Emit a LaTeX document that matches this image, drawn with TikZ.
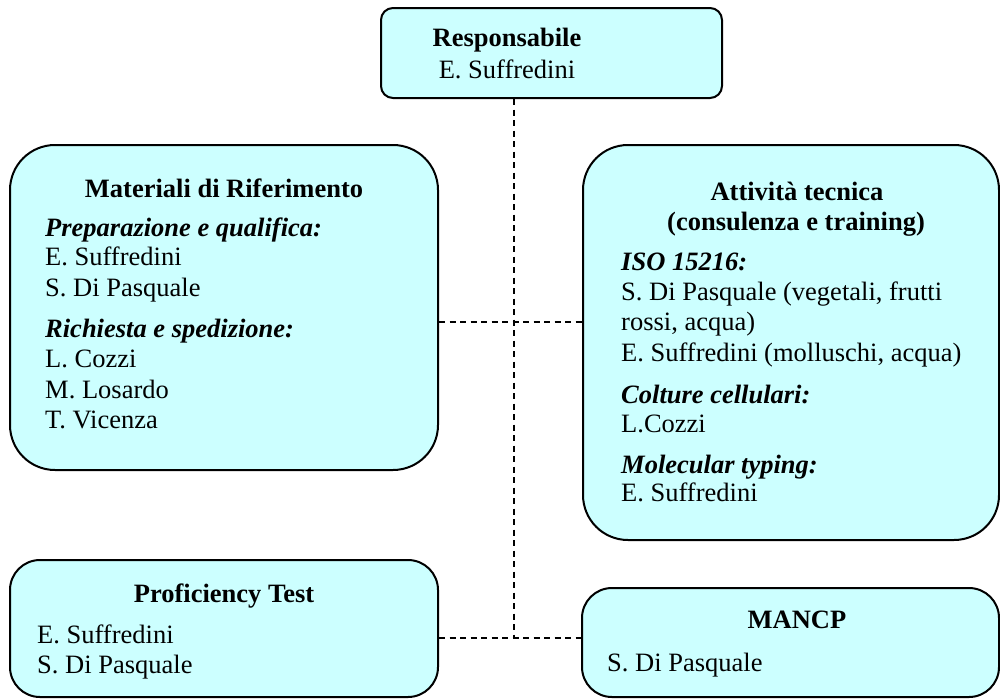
\documentclass[tikz,border=0pt]{standalone}
\usepackage{fontspec}
\setmainfont{Liberation Serif}
\definecolor{boxfill}{RGB}{204,255,255}
\tikzset{
  box/.style={draw=black, line width=2pt, fill=boxfill, inner sep=0pt},
  conn/.style={draw=black, line width=1.6pt, dash pattern=on 6pt off 4.5pt},
  txt/.style={inner sep=0pt, font=\fontsize{26.5}{30}\selectfont},
  ttl/.style={txt, anchor=base, font=\fontsize{26.5}{30}\selectfont\bfseries},
  itm/.style={txt, anchor=base west},
  hd/.style={txt, anchor=base west, font=\fontsize{26.5}{30}\selectfont\bfseries\itshape}
}
\begin{document}
\begin{tikzpicture}[x=1pt, y=-1pt]
\useasboundingbox[fill=white] (0,0) rectangle (1000,699);
% boxes
\node[box, rounded corners=12pt, minimum width=341pt, minimum height=90pt] (resp) at (551.5,53) {};
\node[box, rounded corners=45pt, minimum width=428pt, minimum height=325pt] (mat) at (224,307.5) {};
\node[box, rounded corners=45pt, minimum width=416pt, minimum height=395pt] (att) at (791,342.5) {};
\node[box, rounded corners=30pt, minimum width=428pt, minimum height=137pt] (prof) at (224,628.5) {};
\node[box, rounded corners=30pt, minimum width=417pt, minimum height=109pt] (mancp) at (790.5,642.5) {};
% junctions
\coordinate (j1) at (514,322);
\coordinate (j2) at (514,638);
% connectors
\draw[conn] (resp.south -| j1) -- (j2);
\draw[conn] (mat.east |- j1) -- (att.west |- j1);
\draw[conn] (prof.east |- j2) -- (mancp.west |- j2);
% Responsabile
\node[ttl] (rt) at (507,46) {Responsabile};
\node[txt, anchor=base] (rn) at (507,78) {E. Suffredini};
% Materiali di Riferimento
\node[ttl] (mt) at (224,197) {Materiali di Riferimento};
\node[hd] (mh1) at (45,236) {Preparazione e qualifica:};
\node[itm] (m1) at (45,265) {E. Suffredini};
\node[itm] (m2) at (45,296) {S. Di Pasquale};
\node[hd] (mh2) at (45,337) {Richiesta e spedizione:};
\node[itm] (m3) at (45,367) {L. Cozzi};
\node[itm] (m4) at (45,398) {M. Losardo};
\node[itm] (m5) at (45,428) {T. Vicenza};
% Attivita tecnica
\node[ttl] (at1) at (797,200) {Attività tecnica};
\node[ttl] (at2) at (796,230) {(consulenza e training)};
\node[hd] (ah1) at (621,270) {ISO 15216:};
\node[itm] (a1) at (621,300) {S. Di Pasquale (vegetali, frutti};
\node[itm] (a2) at (621,330) {rossi, acqua)};
\node[itm] (a3) at (621,361) {E. Suffredini (molluschi, acqua)};
\node[hd] (ah2) at (621,403) {Colture cellulari:};
\node[itm] (a4) at (621,432) {L.Cozzi};
\node[hd] (ah3) at (621,473) {Molecular typing:};
\node[itm] (a5) at (621,501) {E. Suffredini};
% Proficiency Test
\node[ttl] (pt) at (224,602) {Proficiency Test};
\node[itm] (p1) at (37,643) {E. Suffredini};
\node[itm] (p2) at (37,673) {S. Di Pasquale};
% MANCP
\node[ttl] (mc) at (797,628) {MANCP};
\node[itm] (c1) at (607,671) {S. Di Pasquale};
\end{tikzpicture}
\end{document}
